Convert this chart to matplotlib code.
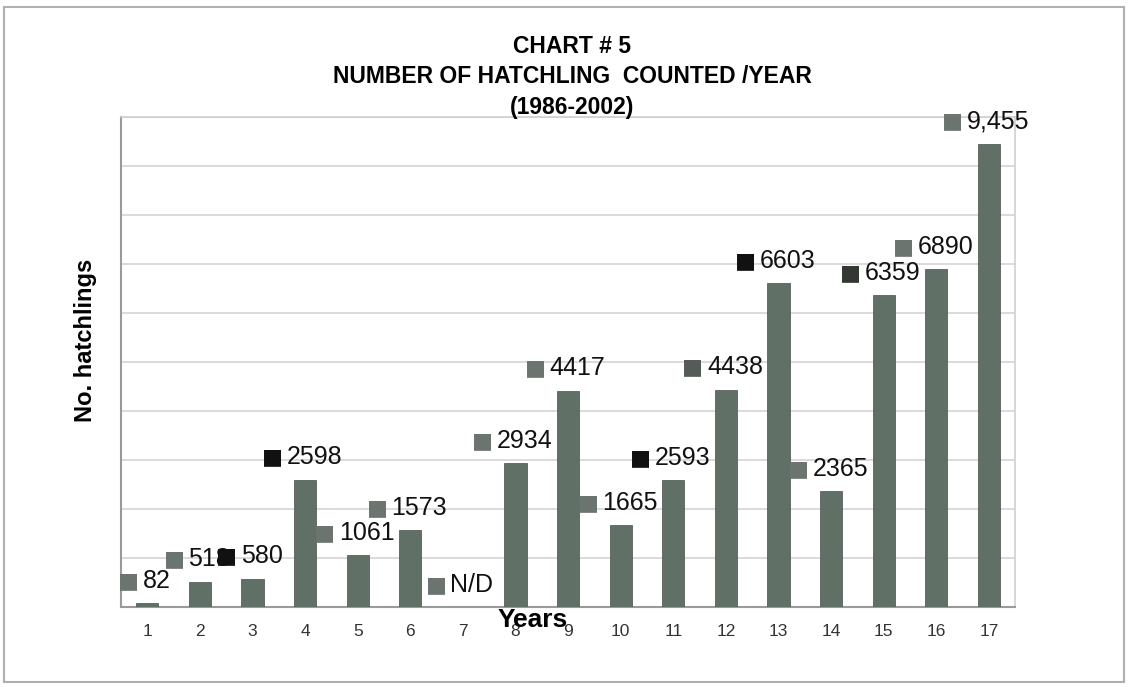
import numpy as np
import matplotlib.pyplot as plt
from matplotlib.patches import Rectangle

years = list(range(1, 18))
hatchlings = [82, 518, 580, 2598, 1061, 1573, 0, 2934, 4417, 1665,
              2593, 4438, 6603, 2365, 6359, 6890, 9455]
labels = ["82", "518", "580", "2598", "1061", "1573", "N/D", "2934", "4417",
          "1665", "2593", "4438", "6603", "2365", "6359", "6890", "9,455"]

# key squares in the scan: some came out black, most gray
key_colors = ["#6b746e", "#6b746e", "#111111", "#111111", "#6b746e", "#6b746e",
              "#6b746e", "#6b746e", "#6b746e", "#6b746e", "#111111", "#555c57",
              "#111111", "#6b746e", "#333833", "#6b746e", "#6b746e"]

bar_color = "#617066"

plt.rcParams['font.family'] = ['Liberation Sans', 'DejaVu Sans']

fig = plt.figure(figsize=(11.29, 6.87), dpi=100)
ax = fig.add_axes([0.1072, 0.1165, 0.792, 0.7132])

# outer chart frame
fig.patches.append(Rectangle((4 / 1129, 5 / 687), 1120 / 1129, 675 / 687,
                             transform=fig.transFigure, fill=False,
                             edgecolor="#b0b0b0", linewidth=1.5))

ax.bar(years, hatchlings, width=0.42, color=bar_color,
       edgecolor="#465049", linewidth=0.5, zorder=3)

ax.set_xlim(0.5, 17.5)
ax.set_ylim(0, 10000)
ax.set_yticks(np.arange(0, 10001, 1000))
ax.set_yticklabels([])
ax.tick_params(axis='y', length=0)
ax.set_xticks(years)
ax.set_xticklabels([str(y) for y in years], fontsize=12.5, color="#333333")
ax.tick_params(axis='x', length=0, pad=12)
ax.grid(axis='y', color="#d4d4d4", linewidth=1.2, zorder=0)

for side in ['top', 'right']:
    ax.spines[side].set_color("#cfcfcf")
    ax.spines[side].set_linewidth(1.2)
ax.spines['left'].set_color("#9a9a9a")
ax.spines['left'].set_linewidth(1.5)
ax.spines['bottom'].set_color("#9a9a9a")
ax.spines['bottom'].set_linewidth(1.5)

# data labels with legend key square in front
for x, v, lab, kc in zip(years, hatchlings, labels, key_colors):
    t = ax.annotate(lab, xy=(x, v), xytext=(6.5, 16), textcoords='offset points',
                    ha='center', va='center', fontsize=18, color="#111111",
                    zorder=5)
    ax.annotate("\u25a0", xy=(0, 0.5), xycoords=t, xytext=(-2.5, 0),
                textcoords='offset points', ha='right', va='center',
                fontsize=16, color=kc, family='DejaVu Sans', zorder=6)

title_font = ['Liberation Sans Narrow', 'Liberation Sans']
fig.text(0.507, 0.933, "CHART # 5", ha='center', va='center', fontsize=16.5,
         fontweight='bold', family=title_font)
fig.text(0.507, 0.889, "NUMBER OF HATCHLING  COUNTED /YEAR", ha='center',
         va='center', fontsize=16.5, fontweight='bold', family=title_font)
fig.text(0.507, 0.844, "(1986-2002)", ha='center', va='center', fontsize=16.5,
         fontweight='bold', family=title_font)

fig.text(0.076, 0.505, "No. hatchlings", rotation=90, ha='center', va='center',
         fontsize=17, fontweight='bold')
fig.text(0.472, 0.097, "Years", ha='center', va='center', fontsize=19,
         fontweight='bold')

fig.savefig("out.png", dpi=100)
